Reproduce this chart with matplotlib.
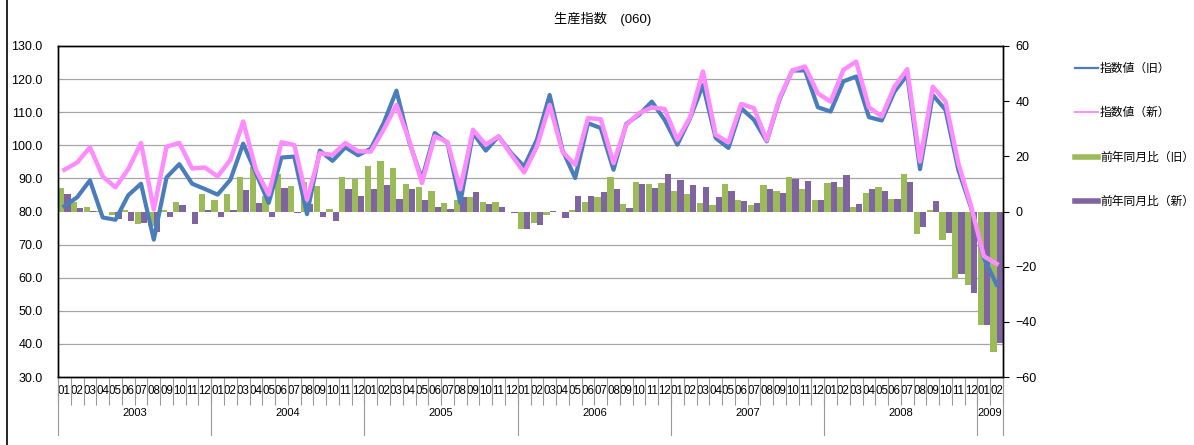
import numpy as np
import matplotlib
matplotlib.use('Agg')
import matplotlib.pyplot as plt
from matplotlib.lines import Line2D

plt.rcParams['font.family'] = ['Liberation Sans', 'Noto Sans CJK JP', 'DejaVu Sans']

years = ['2003', '2004', '2005', '2006', '2007', '2008', '2009']
months_per_year = [12, 12, 12, 12, 12, 12, 2]
month_labels = ['%02d' % m for n in months_per_year for m in range(1, n + 1)]

# 指数値（旧） / 指数値（新）, left axis
old_idx = [81.6, 84.3, 89.4, 78.2, 77.5, 84.9, 88.4, 71.5, 90.3, 94.3, 88.4, 86.8,
           85.1, 89.6, 100.5, 91.6, 82.6, 96.3, 96.6, 79.2, 98.4, 95.3, 99.4, 97.0,
           99.0, 106.7, 116.5, 101.0, 89.8, 103.7, 100.7, 82.6, 103.7, 98.4, 102.7, 97.6,
           93.6, 101.7, 115.2, 98.6, 90.1, 106.7, 105.2, 92.6, 106.5, 109.2, 113.2, 107.7,
           100.2, 108.2, 118.2, 102.2, 99.2, 111.2, 107.7, 101.2, 113.8, 122.6, 122.6, 111.5,
           110.2, 119.3, 120.8, 108.5, 107.5, 116.2, 121.3, 92.8, 115.2, 110.7, 92.6, 81.1,
           66.0, 57.9]
new_idx = [92.6, 94.8, 99.4, 90.6, 87.3, 92.8, 100.7, 80.6, 99.6, 100.7, 93.0, 93.3,
           90.6, 95.6, 107.2, 92.6, 85.1, 100.9, 100.1, 83.6, 97.6, 97.1, 100.7, 98.2,
           98.1, 104.7, 112.2, 101.5, 88.6, 102.7, 101.0, 86.8, 104.7, 100.2, 102.7, 97.1,
           91.8, 99.6, 112.2, 98.1, 94.1, 108.2, 107.9, 94.6, 106.2, 109.7, 111.4, 111.0,
           101.7, 108.5, 122.3, 103.2, 100.9, 112.5, 111.2, 101.5, 114.3, 122.6, 123.8, 115.7,
           113.2, 122.8, 125.3, 111.5, 108.7, 117.7, 123.0, 95.1, 117.7, 113.2, 94.6, 81.6,
           66.5, 64.2]

# 前年同月比（旧） / 前年同月比（新）, right axis
old_yoy = [8.6, 3.3, 1.7, 0.3, -1.4, 0.6, -4.7, -5.3, 0.4, 3.5, -0.1, 6.5,
           4.3, 6.5, 12.5, 16.3, 5.6, 13.7, 9.4, 10.6, 9.4, 1.0, 12.5, 11.8,
           16.6, 18.4, 15.8, 9.8, 8.9, 7.6, 3.0, 4.0, 5.2, 3.3, 3.5, -0.2,
           -6.3, -4.1, -1.1, 0.0, 0.4, 3.3, 5.2, 12.4, 2.8, 10.7, 10.1, 10.4,
           7.6, 6.5, 3.1, 2.2, 9.8, 4.1, 2.5, 9.5, 7.5, 12.5, 8.2, 4.0,
           10.4, 9.0, 1.6, 6.6, 8.8, 4.5, 13.7, -8.2, 0.4, -10.2, -24.2, -26.6,
           -41.0, -50.8]
new_yoy = [6.4, 1.1, 0.1, -0.2, -2.7, -3.5, -4.1, -7.3, -1.9, 2.2, -4.7, 0.7,
           -2.0, 0.7, 7.7, 3.0, -1.9, 8.6, -0.6, 2.7, -1.9, -3.5, 8.3, 5.5,
           8.3, 9.5, 4.7, 8.0, 4.0, 1.6, 0.8, 5.3, 7.1, 2.8, 1.8, -0.7,
           -6.3, -4.9, 0.1, -2.3, 5.8, 5.8, 6.9, 8.0, 1.4, 10.0, 8.6, 13.6,
           11.4, 9.5, 8.9, 5.3, 7.6, 3.7, 3.1, 8.0, 6.7, 11.8, 11.2, 4.3,
           10.6, 13.3, 2.7, 8.2, 7.5, 4.5, 10.7, -5.5, 3.9, -7.7, -22.5, -29.6,
           -41.3, -47.7]

x = np.arange(len(month_labels))

fig = plt.figure(figsize=(11.94, 4.45), dpi=100)
ax1 = fig.add_axes([58 / 1194, 1 - 377 / 445, 945 / 1194, 331 / 445])
ax2 = ax1.twinx()
ax1.set_zorder(2)
ax2.set_zorder(1)
ax1.patch.set_visible(False)

# bars on the right axis
ax2.bar(x - 0.245, old_yoy, width=0.49, color='#9BBB59', linewidth=0)
ax2.bar(x + 0.245, new_yoy, width=0.49, color='#8064A2', linewidth=0)
ax2.set_ylim(-60, 60)
ax2.set_yticks(np.arange(-60, 61, 20))
ax2.set_yticks(np.arange(-60, 61, 12), minor=True)
ax2.grid(which='minor', axis='y', color='#a6a6a6', lw=0.9)
ax2.set_axisbelow(True)
ax2.tick_params(axis='y', which='minor', length=0)
ax2.tick_params(axis='y', which='major', length=4, direction='out', pad=5, labelsize=9)

# index lines on the left axis
ax1.plot(x, old_idx, color='#4A7EBB', lw=3.0, solid_joinstyle='round')
ax1.plot(x, new_idx, color='#FF8CFF', lw=3.2, solid_joinstyle='round')
ax1.set_ylim(30, 130)
ax1.set_yticks(np.arange(30, 131, 10))
ax1.set_yticklabels(['%.1f' % v for v in np.arange(30, 131, 10)])
ax1.tick_params(axis='y', length=0, pad=11, labelsize=9)
ax1.set_xlim(-0.5, len(x) - 0.5)
ax1.set_xticks(x)
ax1.set_xticklabels(month_labels)
ax1.set_xticks(np.arange(-0.5, len(x), 1), minor=True)
ax1.tick_params(axis='x', which='major', length=0, pad=6, labelsize=8.3)
ax1.tick_params(axis='x', which='minor', length=20, width=0.8, color='#999999', direction='out')

for ax in (ax1, ax2):
    for s in ax.spines.values():
        s.set_color('black')
        s.set_linewidth(1)

# year groups under the month labels
tr = ax1.get_xaxis_transform()
start = 0
bounds = [-0.5]
for yr, n in zip(years, months_per_year):
    mid = start + (n - 1) / 2
    ax1.text(mid, -0.11, yr, transform=tr, ha='center', va='center', fontsize=8)
    start += n
    bounds.append(start - 0.5)
for b in bounds:
    ax1.plot([b, b], [0, -0.175], transform=tr, color='#999999', lw=0.8, clip_on=False)

fig.text(0.505, 0.958, '生産指数　(060)', ha='center', va='center', fontsize=9.5)

handles = [Line2D([], [], color='#4A7EBB', lw=1.6),
           Line2D([], [], color='#FF8CFF', lw=1.4),
           Line2D([], [], color='#9BBB59', lw=4),
           Line2D([], [], color='#8064A2', lw=4)]
labels = ['指数値（旧）', '指数値（新）', '前年同月比（旧）', '前年同月比（新）']
fig.legend(handles, labels, loc='upper left', bbox_to_anchor=(1070 / 1194, 1 - 58 / 445),
           frameon=False, fontsize=8.5, labelspacing=2.75, handlelength=2.0,
           handletextpad=0.15, borderaxespad=0)

fig.add_artist(Line2D([7 / 1194, 7 / 1194], [0, 1], color='black', lw=1.2))

fig.savefig('out.png', dpi=100)
